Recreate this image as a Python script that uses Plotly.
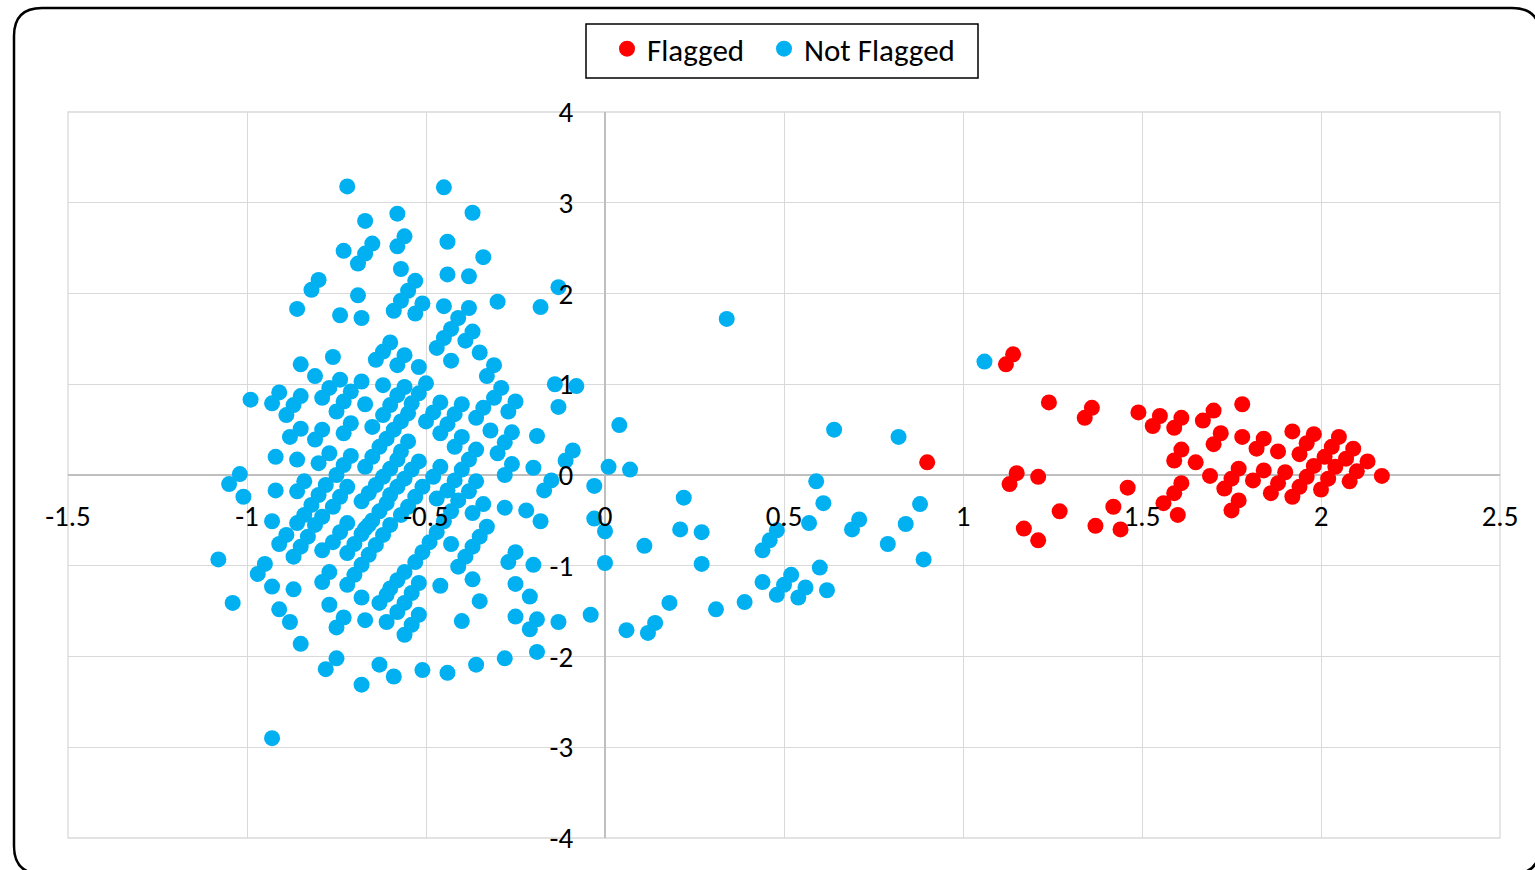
import plotly.graph_objects as go

# ---- data -------------------------------------------------------------
flagged_x = [
    1.14, 1.12, 1.24, 0.90, 1.15, 1.13, 1.21, 1.27, 1.17, 1.21,
    1.36, 1.34, 1.49, 1.55, 1.53, 1.61, 1.59, 1.70, 1.67, 1.78,
    1.72, 1.70, 1.78, 1.82, 1.61, 1.59, 1.65, 1.69,
    1.77, 1.75, 1.73, 1.81, 1.61, 1.59, 1.56, 1.77, 1.75, 1.60,
    1.46, 1.42, 1.37, 1.44,
    1.84, 1.88, 1.92, 1.98, 1.96, 1.94,
    2.05, 2.03, 2.01, 1.98, 1.96, 1.94, 1.92,
    2.09, 2.07, 2.04, 2.02, 2.00,
    2.13, 2.10, 2.08, 2.17,
    1.84, 1.90, 1.88, 1.86,
]
flagged_y = [
    1.33, 1.22, 0.80, 0.14, 0.02, -0.10, -0.02, -0.40, -0.59, -0.72,
    0.74, 0.63, 0.69, 0.65, 0.54, 0.63, 0.52, 0.71, 0.60, 0.78,
    0.46, 0.34, 0.42, 0.29, 0.28, 0.16, 0.14, -0.01,
    0.07, -0.04, -0.15, -0.06, -0.09, -0.20, -0.31, -0.28, -0.39, -0.44,
    -0.14, -0.35, -0.56, -0.60,
    0.40, 0.26, 0.48, 0.45, 0.35, 0.23,
    0.42, 0.31, 0.20, 0.10, -0.02, -0.13, -0.24,
    0.29, 0.18, 0.09, -0.04, -0.16,
    0.15, 0.04, -0.07, -0.01,
    0.05, 0.03, -0.09, -0.20,
]

not_flagged_x = [
    # upper part of the main cluster
    -0.72, -0.45, -0.67, -0.58, -0.37, -0.56, -0.58, -0.65, -0.67, -0.69,
    -0.73, -0.44, -0.34, -0.57, -0.44, -0.38, -0.13, -0.80, -0.82, -0.69,
    -0.86, -0.74, -0.68, -0.59, -0.57, -0.55, -0.53, -0.53, -0.51, -0.45,
    -0.38, -0.41, -0.43, -0.45, -0.47, -0.30, -0.18, -0.37, -0.39, -0.35,
    -0.43, -0.56, -0.31, -0.33, -0.60, -0.62, -0.64, -0.76, -0.85, -0.81,
    -0.74, -0.77, -0.79, -0.99, -0.91, -0.93, -0.85, -0.87, -0.89, -0.68,
    -0.71, -0.73, -0.75, -0.62, -0.67, -0.58,
    # dense core
    -0.56, -0.58, -0.60, -0.62, -0.65,
    -0.54, -0.55, -0.57, -0.59, -0.61, -0.63, -0.65, -0.67,
    -0.52, -0.50,
    -0.85, -0.88, -0.79, -0.81, -0.71, -0.73,
    -0.92, -0.86, -0.77, -0.80, -0.71,
    -1.02, -1.05, -1.01, -0.92, -0.84, -0.86,
    -0.73, -0.75, -0.78, -0.80, -0.82, -0.84, -0.86,
    -0.72, -0.74, -0.76, -0.79, -0.81,
    -0.93, -0.52,
    -0.14, -0.08, -0.13,
    -0.29, -0.31, -0.34, -0.36,
    -0.25, -0.27,
    -0.40, -0.42, -0.44, -0.46,
    -0.46, -0.48, -0.50,
    -0.32, -0.26, -0.28, -0.30, -0.19,
    -0.40, -0.42,
    -0.36, -0.38, -0.40, -0.42, -0.44, -0.47,
    -0.55, -0.57,
    -0.09, -0.11, -0.26, -0.28, -0.20,
    -0.46, -0.48, -0.51, -0.53, -0.55,
    -0.36, -0.38, -0.41,
    -0.15, -0.17, -0.03, 0.01,
    -0.34, -0.37, -0.28, -0.22, -0.18, -0.03,
    -0.33, -0.35, -0.37, -0.39, -0.41,
    -0.47, -0.49, -0.51, -0.53, -0.56,
    -0.43, -0.25, -0.27, -0.20, 0.00, -0.37, -0.25, -0.21, -0.46, -0.35,
    -0.52, -0.54, -0.56,
    -0.52, -0.54, -0.56,
    -0.25, -0.19, -0.21, -0.13, -0.04, -0.40,
    -0.19, -0.28, -0.36, -0.44, -0.51,
    # lower-left part of the cluster
    -1.08, -1.04, -0.93, -0.95, -0.97, -0.93, -0.87, -0.91, -0.88, -0.85,
    -0.75, -0.78, -0.68, -0.63, -0.59,
    -0.77, -0.79, -0.77, -0.73, -0.75, -0.68, -0.67,
    -0.89, -0.91,
    -0.83, -0.85, -0.87,
    -0.72, -0.74, -0.76, -0.79,
    -0.66, -0.68, -0.70, -0.72,
    -0.62, -0.64, -0.66, -0.68, -0.70, -0.72,
    -0.58, -0.60, -0.62, -0.64, -0.66, -0.68,
    -0.52, -0.54, -0.56, -0.58, -0.60, -0.61, -0.63, -0.65, -0.67,
    -0.57, -0.60,
    -0.58, -0.60, -0.61, -0.63, -0.45, -0.43,
    -0.58, -0.61,
    # sparse points between the clusters
    0.34, 0.04, 0.07, 0.22, 0.00, 0.21, 0.27, 0.11, 0.27, 0.18,
    0.06, 0.14, 0.12, 0.31, 0.39, 0.44, 0.48, 0.50, 0.52, 0.54,
    0.56, 0.60, 0.62, 0.44, 0.46, 0.48, 0.57, 0.59, 0.61, 0.64,
    1.06, 0.82, 0.71, 0.69, 0.84, 0.88, 0.79, 0.89,
]
not_flagged_y = [
    3.18, 3.17, 2.80, 2.88, 2.89, 2.63, 2.52, 2.55, 2.44, 2.33,
    2.47, 2.57, 2.40, 2.27, 2.21, 2.19, 2.07, 2.15, 2.04, 1.98,
    1.83, 1.76, 1.73, 1.81, 1.92, 2.03, 2.14, 1.78, 1.89, 1.86,
    1.84, 1.73, 1.61, 1.51, 1.40, 1.91, 1.85, 1.58, 1.48, 1.35,
    1.26, 1.32, 1.21, 1.09, 1.46, 1.36, 1.27, 1.30, 1.22, 1.09,
    1.05, 0.96, 0.85, 0.83, 0.91, 0.79, 0.87, 0.77, 0.66, 1.03,
    0.92, 0.81, 0.70, 0.99, 0.78, 1.21,
    0.97, 0.88, 0.77, 0.66, 0.53,
    0.79, 0.68, 0.59, 0.50, 0.40, 0.31, 0.20, 0.09,
    0.90, 1.01,
    0.51, 0.42, 0.50, 0.39, 0.57, 0.46,
    0.20, 0.17, 0.24, 0.13, 0.21,
    0.01, -0.10, -0.24, -0.17, -0.07, -0.18,
    0.11, 0.00, -0.11, -0.22, -0.33, -0.44, -0.53,
    -0.13, -0.24, -0.35, -0.46, -0.55,
    -0.51, 1.19,
    1.00, 0.98, 0.75,
    0.96, 0.85, 0.74, 0.63,
    0.81, 0.70,
    0.78, 0.67, 0.56, 0.46,
    0.80, 0.69, 0.59,
    0.49, 0.47, 0.36, 0.24, 0.43,
    0.42, 0.31,
    0.28, 0.17, 0.06, -0.06, -0.17, -0.26,
    0.37, 0.26,
    0.27, 0.16, 0.12, 0.00, 0.08,
    0.09, -0.02, -0.13, -0.24, -0.35,
    -0.07, -0.18, -0.28,
    -0.06, -0.17, -0.12, 0.09,
    -0.32, -0.42, -0.36, -0.39, -0.51, -0.48,
    -0.57, -0.68, -0.79, -0.90, -1.01,
    -0.63, -0.74, -0.85, -0.96, -1.07,
    -0.76, -0.85, -0.96, -0.99, -0.97, -1.15, -1.20, -1.34, -1.22, -1.39,
    -1.19, -1.30, -1.41,
    -1.54, -1.65, -1.76,
    -1.56, -1.59, -1.70, -1.62, -1.54, -1.61,
    -1.95, -2.02, -2.09, -2.18, -2.15,
    -0.93, -1.41, -2.90, -0.98, -1.09, -1.23, -1.26, -1.48, -1.62, -1.86,
    -2.02, -2.14, -2.31, -2.09, -2.22,
    -1.07, -1.18, -1.43, -1.57, -1.68, -1.35, -1.60,
    -0.66, -0.76,
    -0.68, -0.79, -0.90,
    -0.53, -0.63, -0.74, -0.83,
    -0.55, -0.65, -0.76, -0.86,
    -0.66, -0.77, -0.88, -0.99, -1.10, -1.21,
    0.17, 0.07, -0.02, -0.11, -0.20, -0.29,
    0.15, 0.06, -0.04, -0.13, -0.22, -0.31, -0.40, -0.50, -0.59,
    -0.44, -0.55,
    -1.16, -1.25, -1.32, -1.41, -0.51, -0.40,
    -1.51, -1.62,
    1.72, 0.55, 0.06, -0.25, -0.62, -0.60, -0.63, -0.78, -0.98, -1.41,
    -1.71, -1.63, -1.74, -1.48, -1.40, -1.18, -1.32, -1.21, -1.10, -1.35,
    -1.24, -1.02, -1.27, -0.83, -0.72, -0.61, -0.53, -0.07, -0.31, 0.50,
    1.25, 0.42, -0.49, -0.60, -0.54, -0.32, -0.76, -0.93,
]

x_ticks = [-1.5, -1, -0.5, 0, 0.5, 1, 1.5, 2, 2.5]
y_ticks = [-4, -3, -2, -1, 0, 1, 2, 3, 4]

# ---- styling ----------------------------------------------------------
FONT = "Calibri, Carlito, Lato, sans-serif"
RED = "#FF0000"
BLUE = "#00B0F0"
GRID = "#D9D9D9"
AXIS = "#BFBFBF"

W, H = 1535, 870
M_L, M_R, M_T, M_B = 68, 35, 112, 32
PW, PH = W - M_L - M_R, H - M_T - M_B


def px_x(p):
    return (p - M_L) / PW


def px_y(p):
    return (H - M_B - p) / PH


fig = go.Figure()
fig.add_trace(go.Scatter(
    x=flagged_x, y=flagged_y, mode="markers", name="Flagged",
    marker=dict(color=RED, size=16, line=dict(width=0)),
    legend="legend",
))
fig.add_trace(go.Scatter(
    x=not_flagged_x, y=not_flagged_y, mode="markers", name="Not Flagged",
    marker=dict(color=BLUE, size=16, line=dict(width=0)),
    legend="legend2",
))

# rounded outer frame of the chart (right and bottom sides run off the page)
fl, ft, fr, fb, rad = 14, 8, 1540, 874, 28
frame = (
    f"M {px_x(fl)},{px_y(ft + rad)} "
    f"Q {px_x(fl)},{px_y(ft)} {px_x(fl + rad)},{px_y(ft)} "
    f"L {px_x(fr - rad)},{px_y(ft)} "
    f"Q {px_x(fr)},{px_y(ft)} {px_x(fr)},{px_y(ft + rad)} "
    f"L {px_x(fr)},{px_y(fb - rad)} "
    f"Q {px_x(fr)},{px_y(fb)} {px_x(fr - rad)},{px_y(fb)} "
    f"L {px_x(fl + rad)},{px_y(fb)} "
    f"Q {px_x(fl)},{px_y(fb)} {px_x(fl)},{px_y(fb - rad)} Z"
)
fig.add_shape(type="path", path=frame, xref="paper", yref="paper",
              line=dict(color="#000000", width=2.5), layer="above")
# plot-area border
fig.add_shape(type="rect", x0=0, x1=1, y0=0, y1=1, xref="paper", yref="paper",
              line=dict(color=GRID, width=1.3), layer="below")
# legend frame
fig.add_shape(type="rect", x0=px_x(586), x1=px_x(978), y0=px_y(78), y1=px_y(24),
              xref="paper", yref="paper",
              line=dict(color="#000000", width=1.5), fillcolor="white",
              layer="below")

legend_style = dict(
    orientation="h", xanchor="left", y=px_y(22), yanchor="top",
    bgcolor="rgba(0,0,0,0)", borderwidth=0,
    font=dict(family=FONT, size=31, color="#000000"),
    itemsizing="trace",
)

fig.update_layout(
    width=W, height=H,
    margin=dict(l=M_L, r=M_R, t=M_T, b=M_B),
    paper_bgcolor="white", plot_bgcolor="white",
    font=dict(family=FONT, size=29, color="#000000"),
    showlegend=True,
    legend=dict(x=px_x(607), **legend_style),
    legend2=dict(x=px_x(764), **legend_style),
    xaxis=dict(
        range=[-1.5, 2.5], tickvals=x_ticks, ticktext=[f"{v:g}" for v in x_ticks],
        showgrid=True, gridcolor=GRID, gridwidth=1.3,
        zeroline=True, zerolinecolor=AXIS, zerolinewidth=1.6,
        anchor="free", position=0.5,
        ticks="outside", ticklen=15, tickcolor="rgba(0,0,0,0)",
        showline=False, fixedrange=True,
    ),
    yaxis=dict(
        range=[-4, 4], tickvals=y_ticks, ticktext=[f"{v:g}" for v in y_ticks],
        showgrid=True, gridcolor=GRID, gridwidth=1.3,
        zeroline=True, zerolinecolor=AXIS, zerolinewidth=1.6,
        anchor="free", position=px_x(605),
        ticks="outside", ticklen=26, tickcolor="rgba(0,0,0,0)",
        showline=False, fixedrange=True,
    ),
)

fig.write_html("out.html")
